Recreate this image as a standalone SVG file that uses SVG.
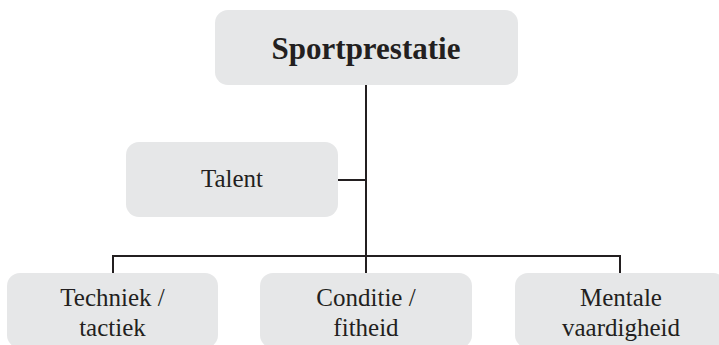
<svg xmlns="http://www.w3.org/2000/svg" width="719" height="345" viewBox="0 0 719 345">
<style>
.box{fill:#e6e7e8;}
.t{font-family:"Liberation Serif","Times New Roman",serif;font-size:25px;fill:#231f20;text-anchor:middle;}
.b{font-weight:bold;font-size:31px;}
.c{stroke:#231f20;stroke-width:2;fill:none;}
</style>
<rect width="719" height="345" fill="#ffffff"/>
<g id="connectors">
<path class="c" d="M366 85 V273"/>
<path class="c" d="M113 273 V256 H620 V273"/>
<path class="c" d="M338 180 H366"/>
</g>
<g id="sportprestatie">
<rect class="box" x="215" y="10" width="303" height="75" rx="13"/>
<text class="t b" x="366" y="59">Sportprestatie</text>
</g>
<g id="talent">
<rect class="box" x="126" y="142" width="212" height="75" rx="13"/>
<text class="t" x="232" y="187">Talent</text>
</g>
<g id="techniek">
<rect class="box" x="7" y="273" width="211" height="75" rx="13"/>
<text class="t" x="112.5" y="306">Techniek /</text>
<text class="t" x="112.5" y="336">tactiek</text>
</g>
<g id="conditie">
<rect class="box" x="260" y="273" width="212" height="75" rx="13"/>
<text class="t" x="366" y="306">Conditie /</text>
<text class="t" x="366" y="336">fitheid</text>
</g>
<g id="mentale">
<rect class="box" x="515" y="273" width="211" height="75" rx="13"/>
<text class="t" x="621" y="306">Mentale</text>
<text class="t" x="621" y="336">vaardigheid</text>
</g>
</svg>
